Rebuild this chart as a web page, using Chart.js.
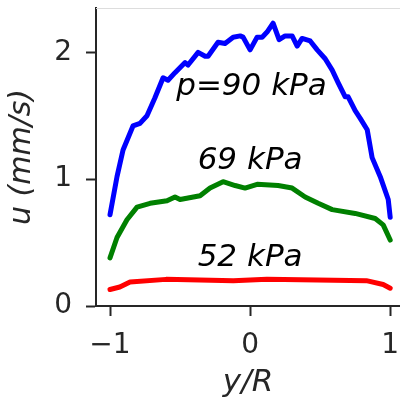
<!DOCTYPE html>
<html>
<head>
<meta charset="utf-8">
<script src="https://cdn.jsdelivr.net/npm/chart.js@4.4.1/dist/chart.umd.min.js"></script>
<style>
  html, body { margin: 0; padding: 0; background: #fff; }
</style>
</head>
<body>
<canvas id="chart" width="400" height="402"></canvas>
<script>
// velocity profiles, y/R vs u (mm/s)
const yR90 = [-1.0, -0.95, -0.907, -0.836, -0.786, -0.736, -0.68, -0.621, -0.586, -0.536, -0.464, -0.443, -0.371, -0.321, -0.3, -0.229, -0.179, -0.121, -0.071, -0.05, 0.0, 0.05, 0.086, 0.121, 0.164, 0.207, 0.25, 0.3, 0.336, 0.371, 0.429, 0.479, 0.536, 0.586, 0.629, 0.679, 0.7, 0.75, 0.786, 0.836, 0.871, 0.929, 0.986, 1.0]
const u90 = [0.72, 1.02, 1.23, 1.42, 1.44, 1.50, 1.64, 1.80, 1.78, 1.84, 1.92, 1.90, 2.00, 1.97, 1.97, 2.08, 2.07, 2.12, 2.13, 2.12, 2.02, 2.12, 2.12, 2.16, 2.23, 2.10, 2.13, 2.13, 2.05, 2.11, 2.09, 2.02, 1.95, 1.86, 1.76, 1.65, 1.65, 1.54, 1.48, 1.39, 1.17, 1.02, 0.84, 0.70]

const yR69 = [-1.0, -0.95, -0.879, -0.807, -0.714, -0.593, -0.536, -0.5, -0.357, -0.286, -0.193, -0.107, -0.036, 0.05, 0.2, 0.3, 0.393, 0.486, 0.586, 0.75, 0.893, 0.95, 1.0]
const u69 = [0.38, 0.54, 0.68, 0.78, 0.81, 0.83, 0.86, 0.84, 0.87, 0.93, 0.98, 0.95, 0.93, 0.96, 0.95, 0.93, 0.86, 0.81, 0.76, 0.73, 0.69, 0.64, 0.52]

const yR52 = [-1.0, -0.93, -0.857, -0.6, -0.12, 0.12, 0.48, 0.83, 0.95, 1.0]
const u52 = [0.13, 0.15, 0.19, 0.21, 0.20, 0.21, 0.205, 0.20, 0.17, 0.14]

const xTicks = [-1, 0, 1]
const yTicks = [0, 1, 2]

// in-plot labels: text, y/R, u
const labelText = ['p=90 kPa', '69 kPa', '52 kPa']
const labelX = [0.01, 0.0, 0.0]
const labelU = [1.73, 1.14, 0.38]

function toPoints(xs, ys) {
  return xs.map(function (x, i) { return { x: x, y: ys[i] } })
}

const inkColor = '#262626'

// draws the pressure labels and the faint top border
const annotations = {
  id: 'annotations',
  afterDatasetsDraw(chart) {
    const ctx = chart.ctx
    const xs = chart.scales.x
    const ys = chart.scales.y
    const area = chart.chartArea
    ctx.save()
    ctx.strokeStyle = '#dddddd'
    ctx.lineWidth = 1
    ctx.beginPath()
    ctx.moveTo(area.left, area.top + 0.5)
    ctx.lineTo(area.right, area.top + 0.5)
    ctx.stroke()

    ctx.fillStyle = '#000'
    ctx.font = 'italic 31px "DejaVu Sans"'
    ctx.textAlign = 'center'
    ctx.textBaseline = 'middle'
    for (let i = 0; i < labelText.length; i++) {
      ctx.fillText(labelText[i], xs.getPixelForValue(labelX[i]), ys.getPixelForValue(labelU[i]))
    }
    ctx.restore()
  }
}

const lineStyle = { borderWidth: 5, pointRadius: 0, fill: false, tension: 0, borderJoinStyle: 'round', borderCapStyle: 'round' }

new Chart(document.getElementById('chart'), {
  type: 'line',
  data: {
    datasets: [
      Object.assign({ data: toPoints(yR90, u90), borderColor: '#0000ff' }, lineStyle),
      Object.assign({ data: toPoints(yR69, u69), borderColor: '#008000' }, lineStyle),
      Object.assign({ data: toPoints(yR52, u52), borderColor: '#ff0000' }, lineStyle),
    ],
  },
  options: {
    responsive: false,
    animation: false,
    layout: { padding: { top: 8, right: 0, left: 0, bottom: 0 } },
    plugins: { legend: { display: false }, tooltip: { enabled: false } },
    scales: {
      x: {
        type: 'linear',
        min: -1.1,
        max: 1.07,
        afterBuildTicks: function (scale) {
          scale.ticks = xTicks.map(function (v) { return { value: v } })
        },
        afterFit: function (scale) {
          scale.height = 96
          scale.paddingLeft = 0
          scale.paddingRight = 0
        },
        grid: { drawOnChartArea: false, tickLength: 10, tickWidth: 2, tickColor: inkColor },
        border: { color: inkColor, width: 2 },
        ticks: {
          padding: 13,
          color: inkColor,
          font: { family: 'DejaVu Sans', size: 28 },
          callback: function (v) { return v < 0 ? '\u2212' + Math.abs(v) : String(v) },
        },
        title: {
          display: true,
          text: 'y/R',
          color: inkColor,
          font: { family: 'DejaVu Sans', size: 31, style: 'italic' },
          padding: { top: 0, bottom: 0 },
        },
      },
      y: {
        min: 0,
        max: 2.35,
        afterBuildTicks: function (scale) {
          scale.ticks = yTicks.map(function (v) { return { value: v } })
        },
        afterFit: function (scale) {
          scale.width = 96
          scale.paddingTop = 0
          scale.paddingBottom = 0
        },
        grid: { drawOnChartArea: false, tickLength: 10, tickWidth: 2, tickColor: inkColor },
        border: { color: inkColor, width: 2 },
        ticks: {
          padding: 14,
          color: inkColor,
          font: { family: 'DejaVu Sans', size: 28 },
        },
        title: {
          display: true,
          text: 'u (mm/s)',
          color: inkColor,
          font: { family: 'DejaVu Sans', size: 30, style: 'italic' },
          padding: { top: 4, bottom: 0 },
        },
      },
    },
  },
  plugins: [annotations],
})
</script>
</body>
</html>
